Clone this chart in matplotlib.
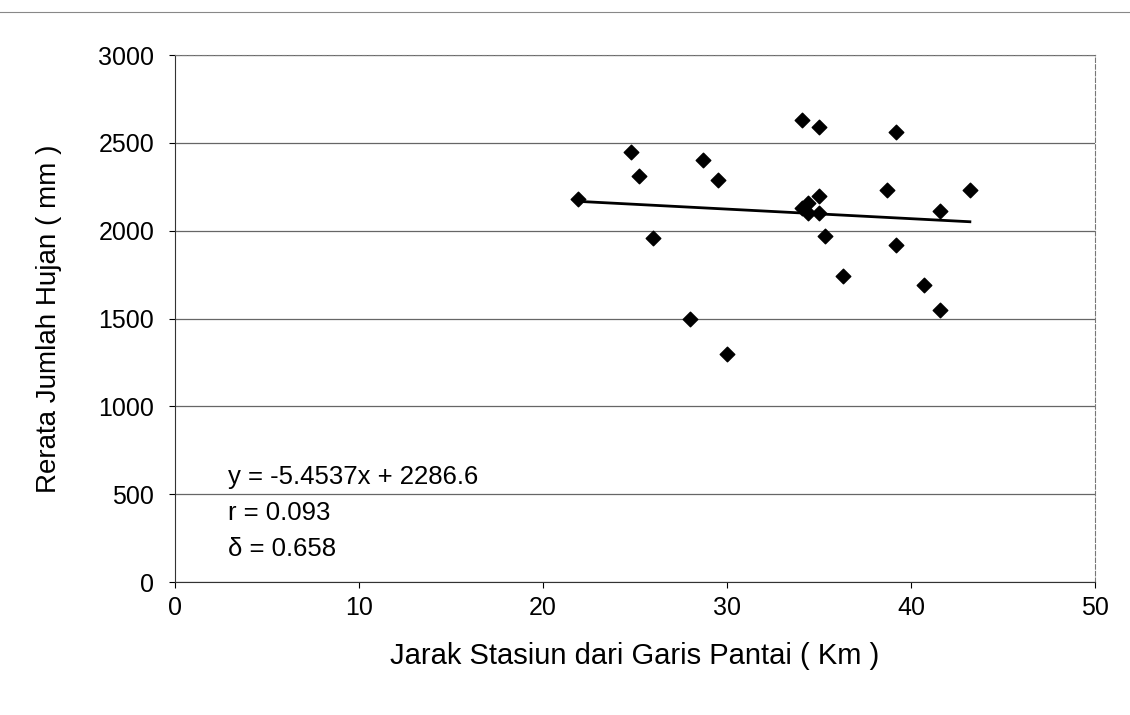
import matplotlib.pyplot as plt
from matplotlib.lines import Line2D

plt.rcParams['font.family'] = ['Liberation Sans', 'DejaVu Sans']

# jarak stasiun (km) dan rerata jumlah hujan (mm)
jarak = [21.9, 24.8, 25.2, 26.0, 28.0, 28.7, 29.5, 30.0,
         34.1, 34.1, 34.4, 34.4, 35.0, 35.0, 35.0, 35.3, 36.3,
         38.7, 39.2, 39.2, 40.7, 41.6, 41.6, 43.2]
hujan = [2180, 2450, 2310, 1960, 1500, 2400, 2290, 1300,
         2630, 2130, 2160, 2100, 2590, 2200, 2100, 1970, 1740,
         2230, 2560, 1920, 1690, 2110, 1550, 2230]

slope = -5.4537
intercept = 2286.6
r_val = 0.093
delta = 0.658
x_fit = [21.9, 43.2]

fig = plt.figure(figsize=(11.3, 7.15), dpi=100)
ax = fig.add_axes([0.155, 0.186, 0.814, 0.737])

ax.scatter(jarak, hujan, marker='D', s=55, color='black', zorder=3)
ax.plot(x_fit, [slope * v + intercept for v in x_fit], color='black', lw=2, zorder=2)

ax.set_xlim(0, 50)
ax.set_ylim(0, 3000)
ax.set_xticks(range(0, 51, 10))
ax.set_yticks(range(0, 3001, 500))
ax.grid(axis='y', color='#666666', lw=0.9)
ax.set_axisbelow(True)
for s in ['top', 'right']:
    ax.spines[s].set_color('#777777')
    ax.spines[s].set_linewidth(0.8)
    ax.spines[s].set_linestyle((0, (4, 2)))
ax.spines['left'].set_color('#333333')
ax.spines['bottom'].set_color('#333333')
ax.tick_params(labelsize=18, length=4, width=0.8)
ax.tick_params(axis='y', pad=11)
ax.tick_params(axis='x', pad=6)

ax.set_xlabel('Jarak Stasiun dari Garis Pantai ( Km )', fontsize=21, labelpad=16)
ax.set_ylabel('Rerata Jumlah Hujan ( mm )', fontsize=20, labelpad=26)

ax.text(2.9, 600, f'y = {slope}x + {intercept}', fontsize=18.5, va='center')
ax.text(2.9, 395, f'r = {r_val}', fontsize=18.5, va='center')
ax.text(2.9, 190, f'\u03b4 = {delta}', fontsize=18.5, va='center')

fig.add_artist(Line2D([0, 1], [0.983, 0.983], color='#888888', lw=0.8))

fig.savefig('out.png', dpi=100)
